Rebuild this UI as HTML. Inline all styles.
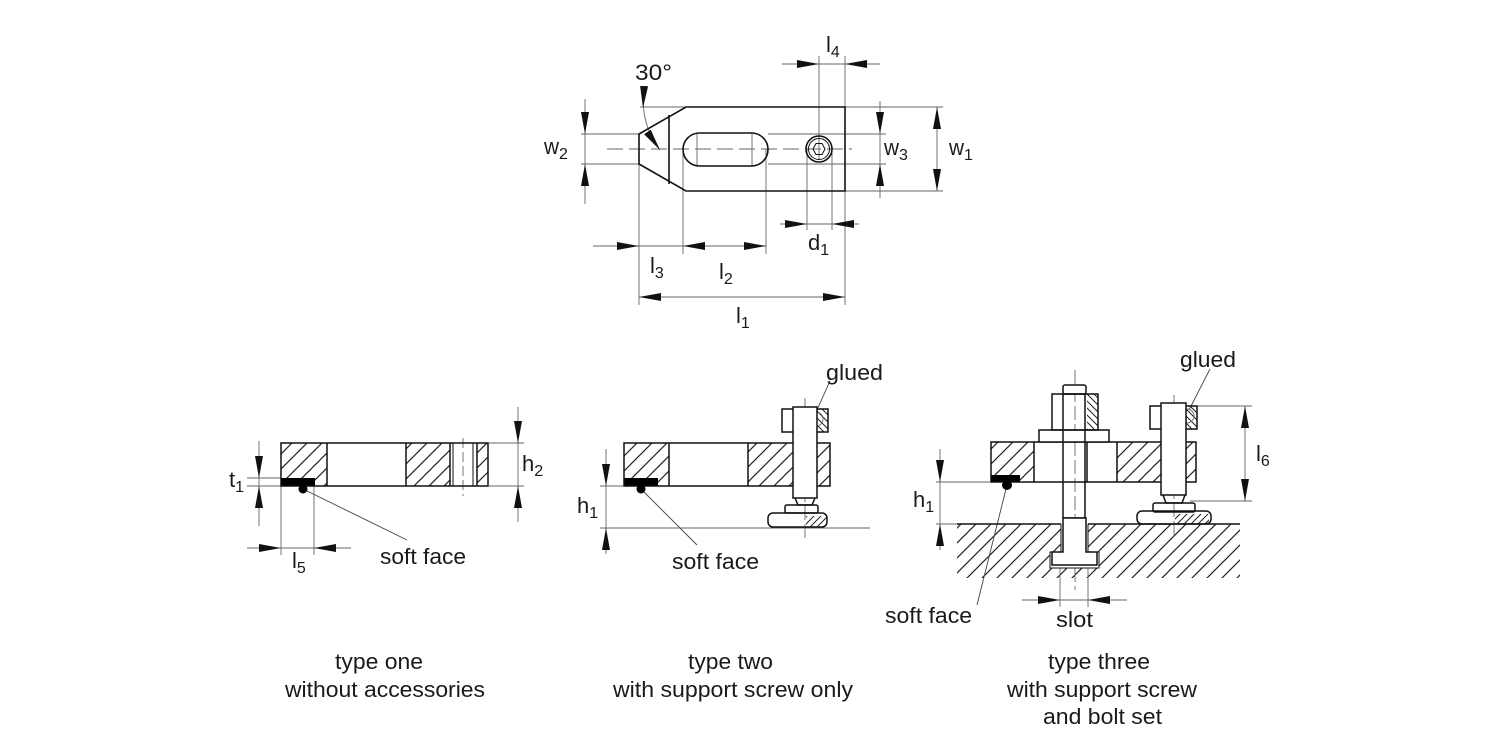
<!DOCTYPE html>
<html><head><meta charset="utf-8"><style>
html,body{margin:0;padding:0;background:#fff;}
svg{display:block;}
text{font-family:"Liberation Sans",Arial,sans-serif;fill:#1a1a1a;}
</style></head><body>
<svg width="1500" height="750" viewBox="0 0 1500 750" xmlns="http://www.w3.org/2000/svg">
<defs>
<marker id="a" viewBox="0 0 22 8" refX="22" refY="4" markerWidth="22" markerHeight="8" markerUnits="userSpaceOnUse" orient="auto-start-reverse"><path d="M0,0 L22,4 L0,8 z" fill="#111"/></marker>
<pattern id="h" patternUnits="userSpaceOnUse" width="15" height="15"><path d="M-2,2 L2,-2 M0,15 L15,0 M13,17 L17,13" stroke="#222" stroke-width="1.2"/></pattern>
<pattern id="hb" patternUnits="userSpaceOnUse" width="7" height="7"><path d="M-1,1 L1,-1 M0,7 L7,0 M6,8 L8,6" stroke="#222" stroke-width="1"/></pattern>
<pattern id="hr" patternUnits="userSpaceOnUse" width="7" height="7"><path d="M-1,6 L1,8 M0,0 L7,7 M6,-1 L8,1" stroke="#222" stroke-width="1"/></pattern>
</defs>

<!-- ============ TOP VIEW ============ -->
<g stroke="#666" stroke-width="0.9" fill="none">
 <line x1="819" y1="56" x2="819" y2="160"/><line x1="845" y1="56" x2="845" y2="107"/>
 <line x1="845" y1="107" x2="943" y2="107"/><line x1="845" y1="191" x2="943" y2="191"/>
 <line x1="768" y1="134" x2="886" y2="134"/><line x1="768" y1="164" x2="886" y2="164"/>
 <line x1="581" y1="134" x2="639" y2="134"/><line x1="581" y1="164" x2="639" y2="164"/>
 <line x1="640" y1="107" x2="686" y2="107"/>
 <line x1="807" y1="149" x2="807" y2="230"/><line x1="832" y1="149" x2="832" y2="230"/>
 <line x1="639" y1="164" x2="639" y2="305"/><line x1="845" y1="191" x2="845" y2="305"/>
 <line x1="683" y1="149" x2="683" y2="254"/><line x1="766" y1="149" x2="766" y2="254"/>
 <line x1="697" y1="133" x2="697" y2="166"/><line x1="752" y1="133" x2="752" y2="166"/>
 <line x1="607" y1="149" x2="852" y2="149" stroke-dasharray="16,6"/>
 <line x1="782" y1="64" x2="880" y2="64"/>
 <line x1="880" y1="101" x2="880" y2="198"/>
 <line x1="937" y1="107" x2="937" y2="191"/>
 <line x1="585" y1="99" x2="585" y2="204"/>
 <line x1="780" y1="224" x2="859" y2="224"/>
 <line x1="593" y1="246" x2="766" y2="246"/>
 <line x1="639" y1="297" x2="845" y2="297"/>
 <path d="M645,86 Q638,120 660,150"/>
</g>
<g stroke="none" fill="none">
 <line x1="797" y1="64" x2="819" y2="64" marker-end="url(#a)"/>
 <line x1="867" y1="64" x2="845" y2="64" marker-end="url(#a)"/>
 <line x1="880" y1="110" x2="880" y2="134" marker-end="url(#a)"/>
 <line x1="880" y1="188" x2="880" y2="164" marker-end="url(#a)"/>
 <line x1="937" y1="140" x2="937" y2="107" marker-end="url(#a)"/>
 <line x1="937" y1="160" x2="937" y2="191" marker-end="url(#a)"/>
 <line x1="585" y1="110" x2="585" y2="134" marker-end="url(#a)"/>
 <line x1="585" y1="188" x2="585" y2="164" marker-end="url(#a)"/>
 <line x1="783" y1="224" x2="807" y2="224" marker-end="url(#a)"/>
 <line x1="856" y1="224" x2="832" y2="224" marker-end="url(#a)"/>
 <line x1="615" y1="246" x2="639" y2="246" marker-end="url(#a)"/>
 <line x1="708" y1="246" x2="683" y2="246" marker-end="url(#a)"/>
 <line x1="742" y1="246" x2="766" y2="246" marker-end="url(#a)"/>
 <line x1="700" y1="297" x2="639" y2="297" marker-end="url(#a)"/>
 <line x1="780" y1="297" x2="845" y2="297" marker-end="url(#a)"/>
 <line x1="644" y1="88" x2="643" y2="108" marker-end="url(#a)"/>
 <line x1="646" y1="130" x2="660" y2="150" marker-end="url(#a)"/>
</g>
<g stroke="#111" stroke-width="1.6" fill="none">
 <path d="M639,134 L686,107 L845,107 L845,191 L686,191 L639,164 Z"/>
 <line x1="669" y1="115" x2="669" y2="184"/>
 <path d="M699.5,133 L751.5,133 A16.5,16.5 0 0 1 751.5,166 L699.5,166 A16.5,16.5 0 0 1 699.5,133 Z"/>
 <circle cx="819" cy="149" r="13"/>
 <circle cx="819" cy="149" r="10.5" stroke-width="1"/>
 <path d="M813,149 L816,143.5 L822,143.5 L825,149 L822,154.5 L816,154.5 Z" stroke-width="1"/>
</g>
<g font-size="22">
 <text x="826" y="52">l<tspan font-size="16" dy="5">4</tspan></text>
 <text x="635" y="80" textLength="37" lengthAdjust="spacingAndGlyphs">30°</text>
 <text x="544" y="154" textLength="15" lengthAdjust="spacingAndGlyphs">w</text><text x="559" y="159" font-size="16">2</text>
 <text x="884" y="155" textLength="15" lengthAdjust="spacingAndGlyphs">w</text><text x="899" y="160" font-size="16">3</text>
 <text x="949" y="155" textLength="15" lengthAdjust="spacingAndGlyphs">w</text><text x="964" y="160" font-size="16">1</text>
 <text x="808" y="250">d<tspan font-size="16" dy="5">1</tspan></text>
 <text x="650" y="273">l<tspan font-size="16" dy="5">3</tspan></text>
 <text x="719" y="279">l<tspan font-size="16" dy="5">2</tspan></text>
 <text x="736" y="323">l<tspan font-size="16" dy="5">1</tspan></text>
</g>

<!-- ============ TYPE ONE ============ -->
<g stroke="none">
 <rect x="281" y="443" width="46" height="43" fill="url(#h)"/>
 <rect x="406" y="443" width="44" height="43" fill="url(#h)"/>
 <rect x="477" y="443" width="11" height="43" fill="url(#h)"/>
 <rect x="281" y="478" width="34" height="8" fill="#000"/>
</g>
<g stroke="#666" stroke-width="0.9" fill="none">
 <line x1="247" y1="478" x2="281" y2="478"/><line x1="247" y1="486" x2="281" y2="486"/>
 <line x1="259" y1="441" x2="259" y2="526"/>
 <line x1="489" y1="443" x2="524" y2="443"/><line x1="489" y1="486" x2="524" y2="486"/>
 <line x1="518" y1="407" x2="518" y2="522"/>
 <line x1="281" y1="486" x2="281" y2="555"/><line x1="314" y1="486" x2="314" y2="555"/>
 <line x1="247" y1="548" x2="351" y2="548"/>
 <line x1="463" y1="438" x2="463" y2="496" stroke-dasharray="10,4"/>
 <line x1="303" y1="489" x2="407" y2="540" stroke="#444"/>
</g>
<g>
 <line x1="259" y1="455" x2="259" y2="478" marker-end="url(#a)"/>
 <line x1="259" y1="509" x2="259" y2="486" marker-end="url(#a)"/>
 <line x1="518" y1="419" x2="518" y2="443" marker-end="url(#a)"/>
 <line x1="518" y1="510" x2="518" y2="486" marker-end="url(#a)"/>
 <line x1="258" y1="548" x2="281" y2="548" marker-end="url(#a)"/>
 <line x1="338" y1="548" x2="314" y2="548" marker-end="url(#a)"/>
</g>
<g stroke="#111" stroke-width="1.5" fill="none">
 <rect x="281" y="443" width="207" height="43"/>
 <line x1="327" y1="443" x2="327" y2="486"/>
 <line x1="406" y1="443" x2="406" y2="486"/>
 <line x1="450" y1="443" x2="450" y2="486"/>
 <line x1="453" y1="443" x2="453" y2="486" stroke-width="1"/>
 <line x1="473" y1="443" x2="473" y2="486" stroke-width="1"/>
 <line x1="477" y1="443" x2="477" y2="486"/>
</g>
<circle cx="303" cy="489" r="4.5" fill="#000"/>
<g font-size="22">
 <text x="229" y="487">t<tspan font-size="16" dy="5">1</tspan></text>
 <text x="522" y="471">h<tspan font-size="16" dy="5">2</tspan></text>
 <text x="292" y="568">l<tspan font-size="16" dy="5">5</tspan></text>
 <text x="380" y="564" textLength="86" lengthAdjust="spacingAndGlyphs">soft face</text>
</g>

<!-- ============ TYPE TWO ============ -->
<g stroke="none">
 <rect x="624" y="443" width="45" height="43" fill="url(#h)"/>
 <rect x="748" y="443" width="45" height="43" fill="url(#h)"/>
 <rect x="817" y="443" width="13" height="43" fill="url(#h)"/>
 <rect x="817" y="409" width="11" height="23" fill="url(#hr)"/>
 <rect x="806" y="516" width="21" height="11" fill="url(#hb)"/>
 <rect x="624" y="478" width="34" height="8" fill="#000"/>
</g>
<g stroke="#666" stroke-width="0.9" fill="none">
 <line x1="600" y1="486" x2="624" y2="486"/>
 <line x1="600" y1="528" x2="870" y2="528"/>
 <line x1="606" y1="449" x2="606" y2="554"/>
 <line x1="805" y1="398" x2="805" y2="540" stroke-dasharray="14,4"/>
 <line x1="641" y1="489" x2="697" y2="545" stroke="#444"/>
 <line x1="830" y1="381" x2="816" y2="412" stroke="#444"/>
 <circle cx="816" cy="419" r="7"/>
</g>
<g>
 <line x1="606" y1="462" x2="606" y2="486" marker-end="url(#a)"/>
 <line x1="606" y1="552" x2="606" y2="528" marker-end="url(#a)"/>
</g>
<g stroke="#111" stroke-width="1.5" fill="#fff">
 <rect x="624" y="443" width="206" height="43" fill="none"/>
 <line x1="669" y1="443" x2="669" y2="486"/>
 <line x1="748" y1="443" x2="748" y2="486"/>
 <rect x="782" y="409" width="46" height="23" fill="none"/>
 <rect x="793" y="407" width="24" height="91"/>
 <path d="M795,498 L798,505 L812,505 L815,498" fill="none"/>
 <rect x="785" y="505" width="33" height="8" rx="2" fill="none"/>
 <rect x="768" y="513" width="59" height="14" rx="5" fill="none"/>
</g>
<circle cx="641" cy="489" r="4.5" fill="#000"/>
<g font-size="22">
 <text x="577" y="513">h<tspan font-size="16" dy="5">1</tspan></text>
 <text x="672" y="569" textLength="87" lengthAdjust="spacingAndGlyphs">soft face</text>
 <text x="826" y="380" textLength="57" lengthAdjust="spacingAndGlyphs">glued</text>
</g>

<!-- ============ TYPE THREE ============ -->
<g stroke="none">
 <path d="M957,524 L1061,524 L1061,552 L1050,552 L1050,568 L1099,568 L1099,552 L1088,552 L1088,524 L1240,524 L1240,578 L957,578 Z" fill="url(#h)"/>
 <rect x="991" y="442" width="43" height="40" fill="url(#h)"/>
 <rect x="1117" y="442" width="44" height="40" fill="url(#h)"/>
 <rect x="1186" y="442" width="10" height="40" fill="url(#h)"/>
 <rect x="1087" y="394" width="11" height="36" fill="url(#hr)"/>
 <rect x="1087" y="430" width="22" height="12" fill="url(#hb)"/>
 <rect x="1186" y="406" width="11" height="23" fill="url(#hr)"/>
 <rect x="1175" y="514" width="34" height="10" fill="url(#hb)"/>
 <rect x="991" y="475" width="29" height="7" fill="#000"/>
</g>
<g stroke="#666" stroke-width="0.9" fill="none">
 <line x1="936" y1="482" x2="991" y2="482"/>
 <line x1="936" y1="524" x2="957" y2="524"/>
 <line x1="940" y1="449" x2="940" y2="550"/>
 <line x1="1197" y1="406" x2="1252" y2="406"/>
 <line x1="1190" y1="501" x2="1252" y2="501"/>
 <line x1="1245" y1="406" x2="1245" y2="501"/>
 <line x1="1060" y1="568" x2="1060" y2="607"/><line x1="1088" y1="568" x2="1088" y2="607"/>
 <line x1="1022" y1="600" x2="1127" y2="600"/>
 <line x1="1075" y1="370" x2="1075" y2="590" stroke-dasharray="14,4"/>
 <line x1="1174" y1="395" x2="1174" y2="535" stroke-dasharray="14,4"/>
 <line x1="1007" y1="485" x2="977" y2="605" stroke="#444"/>
 <line x1="1210" y1="369" x2="1189" y2="410" stroke="#444"/>
 <circle cx="1187" cy="416" r="7"/>
</g>
<g>
 <line x1="940" y1="458" x2="940" y2="482" marker-end="url(#a)"/>
 <line x1="940" y1="548" x2="940" y2="524" marker-end="url(#a)"/>
 <line x1="1245" y1="440" x2="1245" y2="406" marker-end="url(#a)"/>
 <line x1="1245" y1="467" x2="1245" y2="501" marker-end="url(#a)"/>
 <line x1="1037" y1="600" x2="1060" y2="600" marker-end="url(#a)"/>
 <line x1="1111" y1="600" x2="1088" y2="600" marker-end="url(#a)"/>
</g>
<g stroke="#111" stroke-width="1.5" fill="none">
 <line x1="957" y1="524" x2="1061" y2="524"/><line x1="1088" y1="524" x2="1240" y2="524"/>
 <path d="M1061,524 L1061,552 L1050,552 L1050,568 L1099,568 L1099,552 L1088,552 L1088,524" stroke-width="1"/>
 <rect x="991" y="442" width="205" height="40"/>
 <line x1="1034" y1="442" x2="1034" y2="482"/>
 <line x1="1117" y1="442" x2="1117" y2="482"/>
 <line x1="1087" y1="442" x2="1087" y2="482"/>
 <rect x="1039" y="430" width="70" height="12" fill="#fff"/>
 <rect x="1052" y="394" width="46" height="36" fill="none"/>
 <rect x="1063" y="385" width="23" height="9" rx="2" fill="#fff"/>
 <rect x="1063" y="394" width="22" height="124" fill="none"/>
 <path d="M1063,518 L1063,552 L1052,552 L1052,565 L1097,565 L1097,552 L1086,552 L1086,518 Z" fill="#fff"/>
 <rect x="1150" y="406" width="47" height="23"/>
 <rect x="1161" y="403" width="25" height="92" fill="#fff"/>
 <path d="M1163,495 L1166,503 L1182,503 L1185,495"/>
 <rect x="1153" y="503" width="42" height="9" rx="2"/>
 <rect x="1137" y="511" width="74" height="13" rx="5"/>
</g>
<circle cx="1007" cy="485" r="5" fill="#000"/>
<g font-size="22">
 <text x="913" y="507">h<tspan font-size="16" dy="5">1</tspan></text>
 <text x="1256" y="461">l<tspan font-size="16" dy="5">6</tspan></text>
 <text x="885" y="623" textLength="87" lengthAdjust="spacingAndGlyphs">soft face</text>
 <text x="1056" y="627" textLength="37" lengthAdjust="spacingAndGlyphs">slot</text>
 <text x="1180" y="367" textLength="56" lengthAdjust="spacingAndGlyphs">glued</text>
</g>

<!-- ============ CAPTIONS ============ -->
<g font-size="22">
 <text x="335" y="669" textLength="88" lengthAdjust="spacingAndGlyphs">type one</text>
 <text x="285" y="697" textLength="200" lengthAdjust="spacingAndGlyphs">without accessories</text>
 <text x="688" y="669" textLength="85" lengthAdjust="spacingAndGlyphs">type two</text>
 <text x="613" y="697" textLength="240" lengthAdjust="spacingAndGlyphs">with support screw only</text>
 <text x="1048" y="669" textLength="102" lengthAdjust="spacingAndGlyphs">type three</text>
 <text x="1007" y="697" textLength="190" lengthAdjust="spacingAndGlyphs">with support screw</text>
 <text x="1043" y="724" textLength="119" lengthAdjust="spacingAndGlyphs">and bolt set</text>
</g>
</svg>
</body></html>
